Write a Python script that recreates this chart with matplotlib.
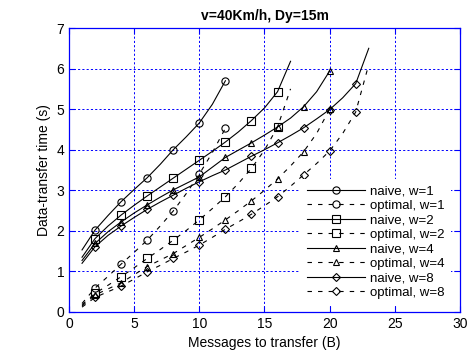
import matplotlib
matplotlib.use("Agg")
import matplotlib.pyplot as plt

plt.rcParams['font.family'] = ['Liberation Sans', 'DejaVu Sans']

# Messages to transfer (B)
x_w1 = list(range(1, 13))
x_w2 = list(range(1, 18))
x_w4 = list(range(1, 21))
x_w8 = list(range(1, 24))

naive_w1 = [1.53, 2.02, 2.38, 2.72, 3.02, 3.31, 3.64, 4.00, 4.32, 4.66, 5.12, 5.70]
optimal_w1 = [0.21, 0.59, 0.88, 1.18, 1.47, 1.77, 2.12, 2.49, 2.92, 3.40, 3.93, 4.53]

naive_w2 = [1.35, 1.81, 2.12, 2.39, 2.63, 2.86, 3.08, 3.30, 3.52, 3.74, 3.96, 4.19,
            4.44, 4.72, 5.03, 5.43, 6.18]
optimal_w2 = [0.18, 0.46, 0.66, 0.87, 1.09, 1.32, 1.54, 1.77, 2.01, 2.27, 2.55, 2.84,
              3.17, 3.54, 3.99, 4.56, 5.50]

naive_w4 = [1.27, 1.69, 1.98, 2.22, 2.44, 2.64, 2.83, 3.01, 3.17, 3.33, 3.57, 3.81,
            3.99, 4.17, 4.36, 4.56, 4.78, 5.06, 5.43, 5.94]
optimal_w4 = [0.15, 0.42, 0.57, 0.72, 0.92, 1.12, 1.28, 1.44, 1.64, 1.84, 2.05, 2.27,
              2.50, 2.74, 3.00, 3.28, 3.60, 3.95, 4.40, 5.00]

naive_w8 = [1.20, 1.61, 1.89, 2.12, 2.33, 2.53, 2.71, 2.88, 3.05, 3.21, 3.36, 3.50,
            3.67, 3.84, 4.00, 4.17, 4.35, 4.54, 4.76, 4.99, 5.28, 5.63, 6.50]
optimal_w8 = [0.12, 0.36, 0.50, 0.64, 0.81, 0.99, 1.15, 1.32, 1.48, 1.65, 1.84, 2.04,
              2.22, 2.41, 2.62, 2.84, 3.10, 3.38, 3.66, 3.97, 4.40, 4.93, 6.10]

x_ticks = [0, 5, 10, 15, 20, 25, 30]
y_ticks = [0, 1, 2, 3, 4, 5, 6, 7]

series = [
    (x_w1, naive_w1, 'o', 'naive, w=1', False),
    (x_w1, optimal_w1, 'o', 'optimal, w=1', True),
    (x_w2, naive_w2, 's', 'naive, w=2', False),
    (x_w2, optimal_w2, 's', 'optimal, w=2', True),
    (x_w4, naive_w4, '^', 'naive, w=4', False),
    (x_w4, optimal_w4, '^', 'optimal, w=4', True),
    (x_w8, naive_w8, 'D', 'naive, w=8', False),
    (x_w8, optimal_w8, 'D', 'optimal, w=8', True),
]
msize = {'o': 5.2, 's': 5.2, '^': 5.0, 'D': 3.8}

fig = plt.figure(figsize=(4.71, 3.64), dpi=100)
ax = fig.add_axes([0.1465, 0.1429, 0.8301, 0.7801])

blue = '#0000FF'
for xs, ys, m, lab, dashed in series:
    ls = (0, (4.0, 5.5)) if dashed else '-'
    ax.plot(xs, ys, color='black', lw=0.8, linestyle=ls, marker=m,
            markersize=msize[m], markerfacecolor='none', markeredgecolor='black',
            markeredgewidth=0.8, markevery=(1, 2), label=lab)

ax.set_xlim(0, 30)
ax.set_ylim(0, 7)
ax.set_xticks(x_ticks)
ax.set_yticks(y_ticks)
ax.grid(True, color=blue, linestyle=(0, (2.2, 2.2)), lw=0.7)
for s in ax.spines.values():
    s.set_color(blue)
    s.set_linewidth(0.9)
ax.tick_params(direction='in', color=blue, labelcolor='black', labelsize=10,
               top=True, right=True, length=4)
ax.set_xlabel('Messages to transfer (B)', fontsize=10)
ax.set_ylabel('Data-transfer time (s)', fontsize=10)
ax.set_title('v=40Km/h, Dy=15m', fontsize=10, fontweight='bold')

leg = ax.legend(loc='lower right', bbox_to_anchor=(0.995, 0.0), fontsize=9.5,
                handlelength=4.4, handletextpad=0.4, labelspacing=0.17,
                borderpad=0.5, frameon=True, fancybox=False, framealpha=1)
leg.get_frame().set_edgecolor('white')
leg.get_frame().set_linewidth(0)

fig.savefig('out.png', dpi=100)
